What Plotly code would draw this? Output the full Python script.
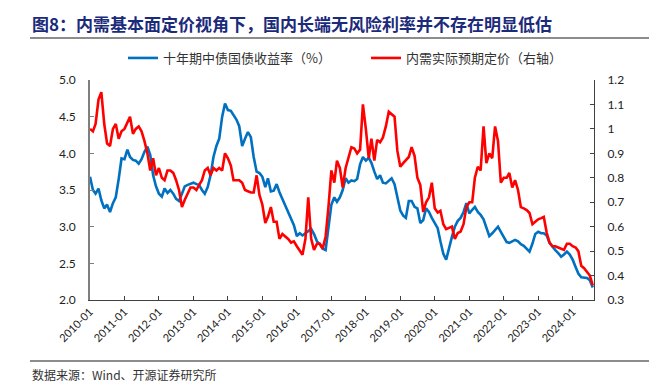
import plotly.graph_objects as go
import pandas as pd

# Monthly dates 2010-01 .. 2024-08
dates = pd.date_range("2010-01-01", "2024-08-01", freq="MS").strftime("%Y-%m-%d").tolist()

# 十年期中债国债收益率（%） – left axis
cgb10y = [
    3.68, 3.50, 3.45, 3.52, 3.36, 3.25, 3.30, 3.20, 3.32, 3.40, 3.65, 3.93,
    3.92, 4.05, 3.95, 3.91, 3.90, 3.86, 3.92, 4.02, 4.09, 3.98, 3.70, 3.55,
    3.45, 3.41, 3.52, 3.46, 3.50, 3.45, 3.38, 3.35, 3.45, 3.55, 3.57, 3.59,
    3.60, 3.58, 3.57, 3.50, 3.45, 3.54, 3.70, 3.95, 4.10, 4.20, 4.50, 4.68,
    4.59, 4.58, 4.53, 4.46, 4.37, 4.10, 4.20, 4.29, 4.22, 3.95, 3.75, 3.73,
    3.68, 3.54, 3.66, 3.48, 3.49, 3.58, 3.47, 3.38, 3.30, 3.22, 3.12, 3.02,
    2.87, 2.91, 2.88, 2.91, 2.93, 2.97, 2.90, 2.80, 2.76, 2.70, 2.68, 2.95,
    3.30, 3.40, 3.34, 3.40, 3.50, 3.66, 3.60, 3.63, 3.62, 3.65, 3.85, 3.95,
    3.90, 3.94, 3.87, 3.75, 3.65, 3.70, 3.60, 3.59, 3.63, 3.66, 3.58, 3.40,
    3.22, 3.15, 3.12, 3.35, 3.35, 3.27, 3.25, 3.05, 3.09, 3.25, 3.20, 3.12,
    3.05, 2.98, 2.80, 2.63, 2.55, 2.72, 2.86, 3.00, 3.08, 3.12, 3.20, 3.32,
    3.18, 3.23, 3.27, 3.20, 3.16, 3.10, 2.98, 2.87, 2.91, 2.95, 3.00, 2.93,
    2.85, 2.79, 2.78, 2.80, 2.82, 2.80, 2.76, 2.74, 2.70, 2.66, 2.77, 2.90,
    2.93, 2.91, 2.91, 2.88, 2.78, 2.72, 2.68, 2.64, 2.59, 2.62, 2.66, 2.62,
    2.55, 2.45, 2.36, 2.31, 2.30, 2.30, 2.27, 2.17,
]

# 内需实际预期定价（右轴）
domestic_pricing = [
    1.00, 0.99, 1.02, 1.12, 1.15, 1.02, 0.94, 0.93, 1.00, 1.02, 0.96, 0.99,
    1.00, 1.03, 1.05, 0.98, 1.00, 1.01, 0.99, 0.95, 0.90, 0.83, 0.88, 0.81,
    0.84, 0.80, 0.79, 0.83, 0.83, 0.82, 0.79, 0.75, 0.68, 0.71, 0.735, 0.76,
    0.76, 0.75, 0.77, 0.79, 0.83, 0.84, 0.81, 0.84, 0.83, 0.84, 0.83, 0.90,
    0.88, 0.85, 0.79, 0.79, 0.79, 0.78, 0.75, 0.745, 0.74, 0.74, 0.81, 0.73,
    0.69, 0.615, 0.64, 0.68, 0.62, 0.62, 0.55, 0.57, 0.56, 0.55, 0.535, 0.54,
    0.52, 0.50, 0.485, 0.55, 0.72, 0.55, 0.505, 0.53, 0.53, 0.51, 0.56, 0.68,
    0.83, 0.78, 0.87, 0.84, 0.76, 0.84, 0.88, 0.925, 0.92, 0.90, 0.915, 1.10,
    1.00, 0.88, 0.96, 0.87, 0.955, 0.945, 0.965, 1.01, 1.07, 1.06, 1.05, 0.91,
    0.845, 0.86, 0.87, 0.885, 0.925, 0.89, 0.80, 0.77, 0.66, 0.70, 0.72, 0.78,
    0.675, 0.658, 0.665, 0.61, 0.59, 0.595, 0.60, 0.55, 0.574, 0.58, 0.61, 0.68,
    0.70, 0.70, 0.80, 0.845, 0.83, 1.01, 0.86, 0.90, 0.88, 1.01, 0.95, 0.78,
    0.80, 0.80, 0.82, 0.76, 0.79, 0.75, 0.68, 0.675, 0.668, 0.656, 0.61, 0.62,
    0.63, 0.635, 0.64, 0.575, 0.535, 0.52, 0.52, 0.515, 0.51, 0.505, 0.53, 0.53,
    0.52, 0.515, 0.50, 0.44, 0.43, 0.415, 0.40, 0.36,
]

title_text = "图8：内需基本面定价视角下，国内长端无风险利率并不存在明显低估"
source_text = "数据来源：Wind、开源证券研究所"
name_left = "十年期中债国债收益率（%）"
name_right = "内需实际预期定价（右轴）"

left_ticks = [2.0, 2.5, 3.0, 3.5, 4.0, 4.5, 5.0]
right_ticks = [0.3, 0.4, 0.5, 0.6, 0.7, 0.8, 0.9, 1.0, 1.1, 1.2]
right_ticktext = ["0.3", "0.4", "0.5", "0.6", "0.7", "0.8", "0.9", "1", "1.1", "1.2"]

W, H = 649, 383
L, R, T, B = 90, 55, 80, 83
plot_w = W - L - R
plot_h = H - T - B


def px_x(x):
    return (x - L) / plot_w


def px_y(y):
    return (H - B - y) / plot_h


cjk = "Noto Sans CJK SC"
num_font = "Lato, Liberation Sans, sans-serif"

fig = go.Figure()
fig.add_trace(go.Scatter(
    x=dates, y=cgb10y, name=name_left, mode="lines",
    line=dict(color="#0070C0", width=2.6), yaxis="y",
))
fig.add_trace(go.Scatter(
    x=dates, y=domestic_pricing, name=name_right, mode="lines",
    line=dict(color="#FF0000", width=2.6), yaxis="y2",
))

fig.update_layout(
    width=W, height=H,
    margin=dict(l=L, r=R, t=T, b=B, pad=0, autoexpand=False),
    paper_bgcolor="white", plot_bgcolor="white",
    showlegend=True,
    legend=dict(
        orientation="h", x=px_x(123), xanchor="left", y=px_y(58), yanchor="middle",
        font=dict(family=cjk, size=13, color="#333333"),
        bgcolor="rgba(0,0,0,0)", entrywidth=198, entrywidthmode="pixels",
        tracegroupgap=0,
    ),
    xaxis=dict(
        type="date", automargin=False,
        range=["2010-01-01", "2024-08-14"],
        tick0="2010-01-01", dtick="M12", tickformat="%Y-%m",
        tickangle=-45,
        ticks="inside", ticklen=4, tickcolor="#404040", tickwidth=1,
        showline=True, linecolor="#404040", linewidth=1.3,
        showgrid=False, zeroline=False,
        tickfont=dict(family=num_font, size=11, color="#222222"),
    ),
    yaxis=dict(
        automargin=False,
        range=[2.0, 5.0], tickvals=left_ticks,
        ticktext=[f"{v:.1f}" for v in left_ticks],
        ticks="inside", ticklen=4, tickcolor="#7f7f7f", tickwidth=1,
        showline=True, linecolor="#7f7f7f", linewidth=1.5,
        showgrid=False, zeroline=False,
        tickfont=dict(family=num_font, size=12, color="#222222"),
        ticklabelstandoff=10,
    ),
    yaxis2=dict(
        automargin=False,
        range=[0.3, 1.2], tickvals=right_ticks, ticktext=right_ticktext,
        overlaying="y", side="right", anchor="x",
        ticks="inside", ticklen=4, tickcolor="#404040", tickwidth=1,
        showline=True, linecolor="#404040", linewidth=1,
        showgrid=False, zeroline=False,
        tickfont=dict(family=num_font, size=12, color="#222222"),
        ticklabelstandoff=10,
    ),
)

# Title
fig.add_annotation(
    text=f"<b>{title_text}</b>", xref="paper", yref="paper",
    x=px_x(30), y=px_y(23), xanchor="left", yanchor="middle", showarrow=False,
    font=dict(family=cjk, size=17, color="#1B2A7B"),
)
# Source
fig.add_annotation(
    text=source_text, xref="paper", yref="paper",
    x=px_x(30), y=px_y(374), xanchor="left", yanchor="middle", showarrow=False,
    font=dict(family=cjk, size=12, color="#333333"),
)
# Separator lines
fig.add_shape(type="line", xref="paper", yref="paper",
              x0=px_x(30), x1=px_x(649), y0=px_y(38), y1=px_y(38),
              line=dict(color="#8c8c8c", width=2))
fig.add_shape(type="line", xref="paper", yref="paper",
              x0=px_x(30), x1=px_x(649), y0=px_y(361), y1=px_y(361),
              line=dict(color="#8c8c8c", width=2))

fig.write_html(
    "out.html",
    config={"displayModeBar": False},
    post_script="document.body.style.margin='0';document.body.style.overflow='hidden';",
)
